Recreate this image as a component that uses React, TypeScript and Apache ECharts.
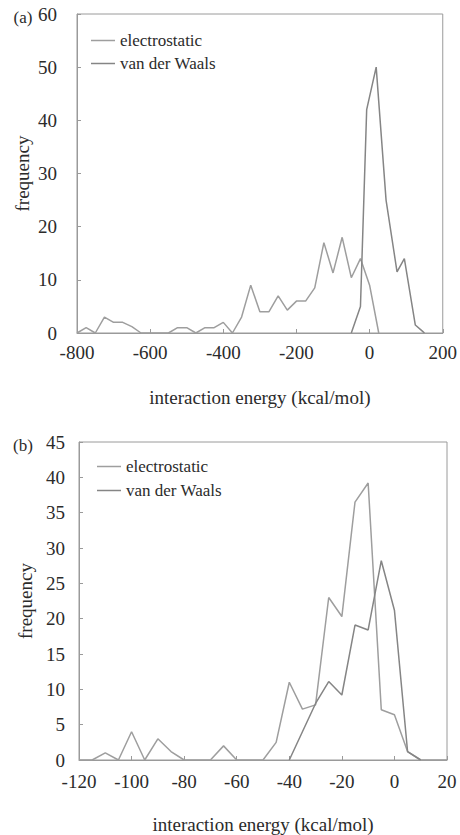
import React, { useEffect, useRef } from 'react';
import * as echarts from 'echarts';

// ---------- Panel (a) ----------
const elecEnergyA = [-800, -775, -750, -725, -700, -675, -650, -625, -600, -575, -550, -525, -500, -475, -450, -425, -400, -375, -350, -325, -300, -275, -250, -225, -200, -175, -150, -125, -100, -75, -50, -25, 0, 25];
const elecFreqA = [0, 1, 0, 3, 2, 2, 1.2, 0, 0, 0, 0, 1, 1, 0, 1, 1, 2, 0, 3, 9, 4, 4, 7, 4.3, 6, 6, 8.5, 17, 11.3, 18, 10.4, 14, 9, 0];
const vdwEnergyA = [-50, -25, -8, 18, 45, 75, 95, 125, 145, 150];
const vdwFreqA = [0, 5, 42, 50, 25, 11.5, 14, 1.5, 0.3, 0];

// ---------- Panel (b) ----------
const elecEnergyB = [-120, -115, -110, -105, -100, -95, -90, -85, -80, -75, -70, -65, -60, -55, -50, -45, -40, -35, -30, -25, -20, -15, -10, -5, 0, 5, 10, 15, 20];
const elecFreqB = [0, 0, 1, 0, 4, 0, 3, 1.2, 0, 0, 0, 2, 0, 0, 0, 2.5, 11, 7.2, 7.8, 23, 20.3, 36.5, 39.2, 7.1, 6.4, 1.2, 0, 0, 0];
const vdwEnergyB = [-40, -35, -30, -25, -20, -15, -10, -5, 0, 5, 10];
const vdwFreqB = [0, 4, 8, 11.1, 9.2, 19.1, 18.4, 28.2, 21.2, 1.2, 0];

// ---------- Axis ticks ----------
const xTicksA = { min: -800, max: 200, interval: 200 };
const yTicksA = { min: 0, max: 60, interval: 10 };
const xTicksB = { min: -120, max: 20, interval: 20 };
const yTicksB = { min: 0, max: 45, interval: 5 };

const seriesNames = ['electrostatic', 'van der Waals'];
const panelLabels = ['(a)', '(b)'];
const xTitle = 'interaction energy (kcal/mol)';
const yTitle = 'frequency';

const FONT = "'Liberation Serif', 'DejaVu Serif', serif";
const TEXT = '#2b2b2b';
const AXIS = '#9a9a9a';
const ELEC = '#9e9e9e';
const VDW = '#858585';

const pairs = (xs: number[], ys: number[]) => xs.map((x, i) => [x, ys[i]]);

function xAxisCfg(gridIndex: number, t: any, margin: number) {
  return {
    gridIndex,
    type: 'value',
    min: t.min,
    max: t.max,
    interval: t.interval,
    axisLine: { show: true, onZero: false, lineStyle: { color: AXIS, width: 1 } },
    axisTick: { show: true, inside: true, length: 4, lineStyle: { color: AXIS } },
    axisLabel: { fontFamily: FONT, fontSize: 19, color: TEXT, margin },
    splitLine: { show: false },
    name: xTitle,
    nameLocation: 'middle',
    nameGap: 55,
    nameTextStyle: { fontFamily: FONT, fontSize: 19, color: TEXT },
  };
}

function yAxisCfg(gridIndex: number, t: any, margin: number, nameGap: number) {
  return {
    gridIndex,
    type: 'value',
    min: t.min,
    max: t.max,
    interval: t.interval,
    axisLine: { show: true, onZero: false, lineStyle: { color: AXIS, width: 1 } },
    axisTick: { show: true, inside: true, length: 4, lineStyle: { color: AXIS } },
    axisLabel: { fontFamily: FONT, fontSize: 19, color: TEXT, margin },
    splitLine: { show: false },
    name: yTitle,
    nameLocation: 'middle',
    nameGap,
    nameMoveOverlap: false,
    nameTextStyle: { fontFamily: FONT, fontSize: 19, color: TEXT },
  };
}

function lineSeries(name: string, idx: number, data: number[][], color: string) {
  return {
    name,
    type: 'line',
    xAxisIndex: idx,
    yAxisIndex: idx,
    data,
    symbol: 'none',
    showSymbol: false,
    lineStyle: { color, width: 1.5 },
    itemStyle: { color },
  };
}

export default function App() {
  const ref = useRef<HTMLDivElement>(null);
  useEffect(() => {
    document.body.style.margin = '0';
    const chart = echarts.init(ref.current!, null, { renderer: 'svg' });
    const legendBase = {
      orient: 'vertical',
      icon: 'rect',
      itemWidth: 24,
      itemHeight: 1.5,
      data: seriesNames,
      textStyle: { fontFamily: FONT, fontSize: 17, color: TEXT },
    };
    chart.setOption({
      animation: false,
      backgroundColor: '#ffffff',
      grid: [
        { left: 77, top: 14, width: 367, height: 319, show: true, borderColor: AXIS, borderWidth: 1 },
        { left: 79, top: 442, width: 368, height: 318, show: true, borderColor: AXIS, borderWidth: 1 },
      ],
      xAxis: [xAxisCfg(0, xTicksA, 10), xAxisCfg(1, xTicksB, 12)],
      yAxis: [yAxisCfg(0, yTicksA, 20, 45), yAxisCfg(1, yTicksB, 14, 44)],
      legend: [
        { ...legendBase, left: 86, top: 27, itemGap: 6 },
        { ...legendBase, left: 92, top: 453, itemGap: 7 },
      ],
      graphic: [
        { type: 'text', x: 23, y: 17, style: { text: panelLabels[0], fontFamily: FONT, fontSize: 17, fill: TEXT, align: 'center', verticalAlign: 'middle' } },
        { type: 'text', x: 23, y: 445, style: { text: panelLabels[1], fontFamily: FONT, fontSize: 17, fill: TEXT, align: 'center', verticalAlign: 'middle' } },
      ],
      series: [
        lineSeries(seriesNames[0], 0, pairs(elecEnergyA, elecFreqA), ELEC),
        lineSeries(seriesNames[1], 0, pairs(vdwEnergyA, vdwFreqA), VDW),
        lineSeries(seriesNames[0], 1, pairs(elecEnergyB, elecFreqB), ELEC),
        lineSeries(seriesNames[1], 1, pairs(vdwEnergyB, vdwFreqB), VDW),
      ],
    });
    return () => chart.dispose();
  }, []);
  return <div ref={ref} style={{ width: 460, height: 835 }} />;
}
